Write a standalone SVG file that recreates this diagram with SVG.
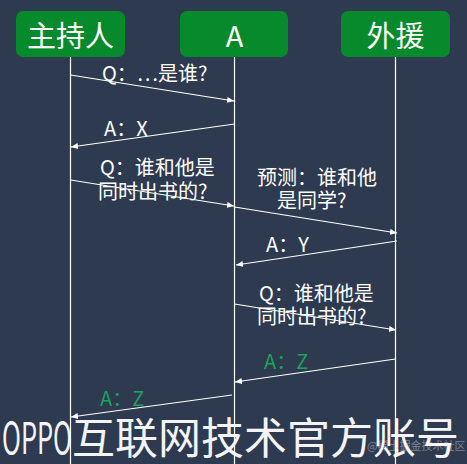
<svg xmlns="http://www.w3.org/2000/svg" width="467" height="464" viewBox="0 0 467 464">
<defs>
<marker id="ah" markerUnits="userSpaceOnUse" markerWidth="7" markerHeight="6" refX="7" refY="3" orient="auto">
<path d="M0,0 L7,3 L0,6 z" fill="#ffffff"/>
</marker>
<style>
.box{fill:#078a2b;}
.hdr{fill:#ffffff;font-family:"Noto Sans CJK SC","Noto Sans",sans-serif;font-size:29px;text-anchor:middle;dominant-baseline:central;}
.life{stroke:#ffffff;stroke-width:1.2;fill:none;}
.msg{stroke:#ffffff;stroke-width:1.2;fill:none;marker-end:url(#ah);}
.lbl{fill:#ffffff;font-family:"Noto Sans CJK SC","Noto Sans",sans-serif;font-size:20px;dominant-baseline:central;}
.grn{fill:#1aa35a;}
.wm{fill:#ffffff;font-family:"Noto Sans CJK SC","Noto Sans",sans-serif;font-size:43px;dominant-baseline:central;opacity:0.95;}
.wm2{fill:#c8ccd4;font-family:"Noto Sans CJK SC","Noto Sans",sans-serif;font-size:11px;dominant-baseline:central;opacity:0.5;}
</style>
</defs>
<rect x="0" y="0" width="467" height="464" fill="#2d3a4f"/>
<g id="lifelines">
<line class="life" x1="70.5" y1="57" x2="70.5" y2="464"/>
<line class="life" x1="234.5" y1="57" x2="234.5" y2="464"/>
<line class="life" x1="395.5" y1="57" x2="395.5" y2="464"/>
</g>
<g id="node-host">
<rect class="box" x="16" y="11" width="109" height="46" rx="7"/>
<text class="hdr" x="70.5" y="34">主持人</text>
</g>
<g id="node-a">
<rect class="box" x="180" y="11" width="108" height="46" rx="7"/>
<text class="hdr" x="234.5" y="34">A</text>
</g>
<g id="node-helper">
<rect class="box" x="341" y="11" width="109" height="46" rx="7"/>
<text class="hdr" x="395.5" y="34">外援</text>
</g>
<g id="connectors">
<line class="msg" x1="70.5" y1="75" x2="234" y2="101"/>
<line class="msg" x1="234.5" y1="124" x2="71" y2="147"/>
<line class="msg" x1="70.5" y1="180" x2="234" y2="206"/>
<line class="msg" x1="234.5" y1="207" x2="397" y2="233"/>
<line class="msg" x1="397" y1="241" x2="236" y2="265"/>
<line class="msg" x1="234.5" y1="304" x2="396" y2="330"/>
<line class="msg" x1="395.5" y1="359" x2="235" y2="382"/>
<line class="msg" x1="232" y1="395" x2="71" y2="417"/>
</g>
<g id="labels">
<text class="lbl" x="102" y="72">Q：…是谁?</text>
<text class="lbl" x="104" y="127">A：X</text>
<text class="lbl" x="100" y="166">Q：谁和他是</text>
<text class="lbl" x="98" y="190">同时出书的?</text>
<text class="lbl" x="257" y="176">预测：谁和他</text>
<text class="lbl" x="277" y="199">是同学?</text>
<text class="lbl" x="266" y="243">A：Y</text>
<text class="lbl" x="259" y="292">Q：谁和他是</text>
<text class="lbl" x="257" y="315">同时出书的?</text>
<text class="lbl grn" x="264" y="360">A：Z</text>
<text class="lbl grn" x="100" y="397">A：Z</text>
</g>
<text class="wm2" x="367" y="445">@稀土掘金技术社区</text>
<text class="wm" y="435"><tspan x="2" textLength="70" lengthAdjust="spacingAndGlyphs">OPPO</tspan><tspan x="72">互联网技术官方账号</tspan></text>
</svg>
